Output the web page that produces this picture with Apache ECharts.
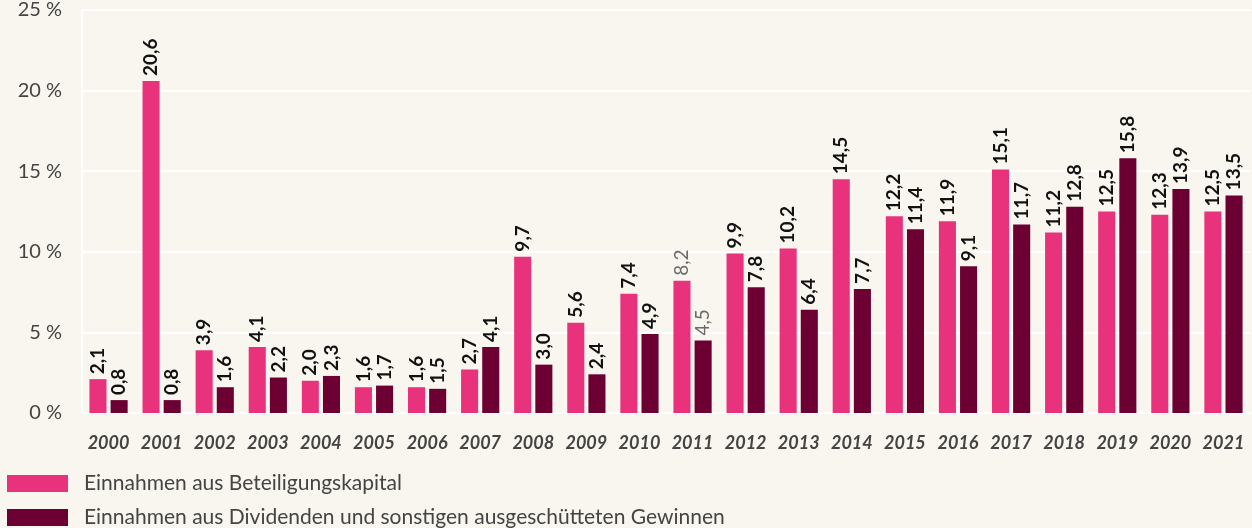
<!DOCTYPE html>
<html>
<head>
<meta charset="utf-8">
<script src="https://cdn.jsdelivr.net/npm/echarts@6/dist/echarts.min.js"></script>
<style>
  html, body { margin: 0; padding: 0; background: #f8f6ef; }
  #chart { width: 1252px; height: 528px; }
</style>
</head>
<body>
<div id="chart"></div>
<script>
// Jahre und Renditen in Prozent
const years = ['2000','2001','2002','2003','2004','2005','2006','2007','2008','2009','2010',
               '2011','2012','2013','2014','2015','2016','2017','2018','2019','2020','2021'];
const beteiligung = [2.1, 20.6, 3.9, 4.1, 2.0, 1.6, 1.6, 2.7, 9.7, 5.6, 7.4,
                     8.2, 9.9, 10.2, 14.5, 12.2, 11.9, 15.1, 11.2, 12.5, 12.3, 12.5];
const dividenden = [0.8, 0.8, 1.6, 2.2, 2.3, 1.7, 1.5, 4.1, 3.0, 2.4, 4.9,
                    4.5, 7.8, 6.4, 7.7, 11.4, 9.1, 11.7, 12.8, 15.8, 13.9, 13.5];
const seriesNames = ['Einnahmen aus Beteiligungskapital',
                     'Einnahmen aus Dividenden und sonstigen ausgeschütteten Gewinnen'];
// Jahr mit abweichend (grau, normal) gesetzten Werten
const mutedYear = '2011';

const FONT = 'Lato, "Noto Sans", sans-serif';
const fmt = v => v.toFixed(1).replace('.', ',');

function toData(values) {
  return values.map((v, i) => years[i] === mutedYear
    ? { value: v, label: { color: '#6a6a6a', fontWeight: 'normal' } }
    : v);
}

const labelStyle = {
  show: true,
  position: 'top',
  rotate: 90,
  align: 'left',
  verticalAlign: 'middle',
  distance: 5,
  fontFamily: FONT,
  fontSize: 19,
  fontWeight: 'bold',
  color: '#111',
  formatter: p => fmt(p.value)
};

const chart = echarts.init(document.getElementById('chart'), null, { renderer: 'canvas' });
chart.setOption({
  backgroundColor: '#f8f6ef',
  animation: false,
  grid: { left: 82, right: 2, top: 8, bottom: 115 },
  legend: {
    orient: 'vertical',
    left: 7,
    top: 473,
    height: 100,
    padding: 0,
    itemWidth: 61,
    itemHeight: 17,
    itemGap: 13,
    icon: 'rect',
    textStyle: { fontFamily: FONT, fontSize: 21, color: '#444', padding: [0, 0, 0, 11] },
    data: seriesNames
  },
  xAxis: {
    type: 'category',
    data: years,
    axisLine: { lineStyle: { color: '#ffffff', width: 2 } },
    axisTick: { inside: true, length: 9, lineStyle: { color: '#ffffff', width: 2 } },
    axisLabel: {
      interval: 0,
      margin: 21,
      fontFamily: FONT,
      fontSize: 18,
      fontStyle: 'italic',
      fontWeight: 'bold',
      color: '#444'
    }
  },
  yAxis: {
    type: 'value',
    min: 0,
    max: 25,
    interval: 5,
    axisLine: { show: true, lineStyle: { color: '#ffffff', width: 2 } },
    axisTick: { show: false },
    splitLine: { lineStyle: { color: '#ffffff', width: 2 } },
    axisLabel: {
      margin: 20,
      fontFamily: FONT,
      fontSize: 20,
      color: '#444',
      formatter: v => v + ' %'
    }
  },
  series: [
    {
      name: seriesNames[0],
      type: 'bar',
      data: toData(beteiligung),
      itemStyle: { color: '#e8337c' },
      barGap: '24%',
      barCategoryGap: '28%',
      label: labelStyle
    },
    {
      name: seriesNames[1],
      type: 'bar',
      data: toData(dividenden),
      itemStyle: { color: '#6d0032' },
      label: labelStyle
    }
  ]
});
</script>
</body>
</html>
